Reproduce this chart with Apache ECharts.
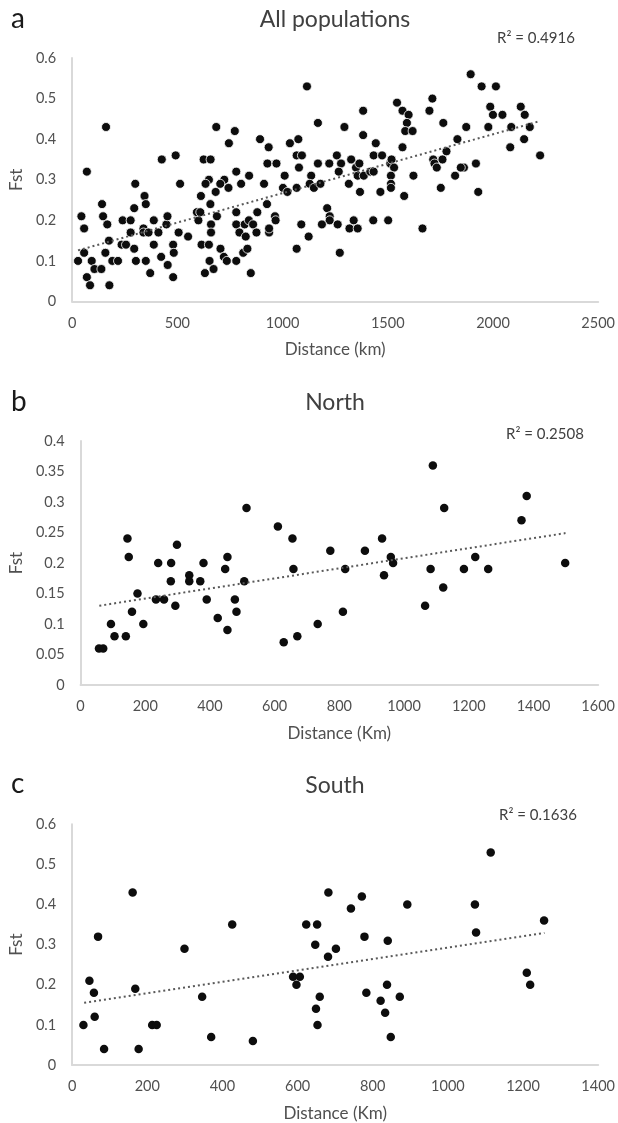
<!DOCTYPE html>
<html>
<head>
<meta charset="utf-8">
<script src="https://cdn.jsdelivr.net/npm/echarts@6/dist/echarts.min.js"></script>
<style>
html,body{margin:0;padding:0;background:#fff;}
#chart{width:618px;height:1123px;}
</style>
</head>
<body>
<div id="chart"></div>
<script>
// ---- Data (distance, Fst) ----
var allPopulations = [
[70,0.32],[161,0.43],[426,0.35],[492,0.36],[625,0.35],[658,0.35],[685,0.43],[773,0.42],[745,0.39],[780,0.32],
[650,0.30],[723,0.30],[841,0.31],[893,0.40],[934,0.38],[928,0.34],[971,0.34],[1010,0.31],[1035,0.39],[1075,0.40],
[1067,0.36],[1092,0.36],[1078,0.33],[1116,0.53],[1168,0.44],[1168,0.34],[1136,0.31],
[1894,0.56],[1946,0.53],[2014,0.53],[1544,0.49],[1712,0.50],[1383,0.47],[1570,0.47],[1599,0.46],[1698,0.47],
[1591,0.44],[1583,0.42],[1618,0.42],[1294,0.43],[1383,0.41],[1443,0.39],[1570,0.38],[1764,0.44],[1873,0.43],
[1831,0.40],[1779,0.37],[1760,0.35],[1716,0.35],[1722,0.34],[1733,0.33],[1919,0.34],[1862,0.33],[1847,0.33],[1820,0.31],
[1987,0.48],[2000,0.46],[2045,0.46],[1978,0.43],[2132,0.48],[2151,0.46],[2087,0.43],[2175,0.43],[2148,0.40],
[2082,0.38],[2224,0.36],[1433,0.36],[1473,0.36],[1258,0.36],[1326,0.35],[1278,0.34],[1222,0.34],[1267,0.32],
[1349,0.33],[1365,0.34],[1357,0.31],[1386,0.31],[1417,0.32],[1433,0.32],[1512,0.34],[1518,0.35],[1530,0.33],[1622,0.31],
[1315,0.29],[1368,0.27],[1465,0.27],[1515,0.31],[1515,0.29],[1515,0.28],[1578,0.26],[1752,0.28],[1930,0.27],
[1212,0.23],[1224,0.21],[1224,0.20],[1187,0.19],[1089,0.19],[1124,0.16],[1262,0.19],[1338,0.20],[1318,0.18],
[1357,0.18],[1431,0.20],[1502,0.20],[1665,0.18],[1272,0.12],
[44,0.21],[57,0.18],[28,0.10],[57,0.12],[70,0.06],[85,0.04],[93,0.10],[106,0.08],[139,0.08],[142,0.24],
[147,0.21],[167,0.19],[175,0.15],[158,0.12],[177,0.04],[191,0.10],[218,0.10],[235,0.14],[256,0.14],[240,0.20],
[278,0.20],[278,0.17],[295,0.23],[300,0.29],[295,0.13],[303,0.10],[344,0.26],[350,0.24],[339,0.18],[339,0.17],
[363,0.17],[410,0.17],[388,0.20],[350,0.10],[371,0.07],[388,0.14],[423,0.11],[448,0.19],[453,0.21],[454,0.09],
[480,0.14],[483,0.12],[480,0.06],[506,0.17],[513,0.29],[551,0.16],[600,0.20],[593,0.22],[609,0.22],[612,0.26],
[615,0.14],[650,0.14],[631,0.07],[634,0.29],[657,0.24],[660,0.19],[660,0.17],[653,0.10],[672,0.08],[682,0.27],
[688,0.21],[705,0.13],[721,0.11],[735,0.10],[704,0.29],[743,0.28],[780,0.22],[780,0.19],[795,0.17],[780,0.10],
[803,0.29],[820,0.19],[840,0.20],[825,0.16],[813,0.12],[833,0.13],[849,0.07],[860,0.19],[880,0.22],[876,0.17],
[912,0.29],[926,0.24],[936,0.17],[936,0.18],[964,0.21],[967,0.20],[1002,0.28],[1023,0.27],[1067,0.28],[1067,0.13],
[1129,0.29],[1149,0.28],[1180,0.29]
];
var northPopulations = [
[145,0.24],[149,0.21],[298,0.23],[513,0.29],[610,0.26],[655,0.24],[454,0.21],[1089,0.36],[1124,0.29],[1379,0.31],
[1363,0.27],[932,0.24],[772,0.22],[879,0.22],[959,0.21],[1220,0.21],[1498,0.20],[240,0.20],[280,0.20],[380,0.20],
[447,0.19],[336,0.18],[279,0.17],[336,0.17],[370,0.17],[506,0.17],[176,0.15],[233,0.14],[258,0.14],[390,0.14],
[477,0.14],[293,0.13],[159,0.12],[482,0.12],[424,0.11],[94,0.10],[194,0.10],[454,0.09],[105,0.08],[140,0.08],
[57,0.06],[70,0.06],[628,0.07],[670,0.08],[658,0.19],[733,0.10],[818,0.19],[966,0.20],[938,0.18],[1082,0.19],
[1185,0.19],[1260,0.19],[1121,0.16],[1065,0.13],[811,0.12]
];
var southPopulations = [
[161,0.43],[69,0.32],[426,0.35],[623,0.35],[652,0.35],[1114,0.53],[682,0.43],[771,0.42],[742,0.39],[892,0.40],
[1072,0.40],[1256,0.36],[1075,0.33],[778,0.32],[840,0.31],[299,0.29],[647,0.30],[46,0.21],[58,0.18],[60,0.12],
[30,0.10],[85,0.04],[168,0.19],[177,0.04],[213,0.10],[225,0.10],[346,0.17],[370,0.07],[481,0.06],[588,0.22],
[606,0.22],[597,0.20],[649,0.14],[653,0.10],[659,0.17],[702,0.29],[681,0.27],[783,0.18],[838,0.20],[821,0.16],
[833,0.13],[872,0.17],[848,0.07],[1210,0.23],[1219,0.20]
];
// Linear trend lines (end points)
var trendAll = [[28,0.126],[2220,0.444]];
var trendNorth = [[58,0.13],[1499,0.249]];
var trendSouth = [[32,0.155],[1257,0.329]];

var panelTitles = ['All populations','North','South'];
var panelLetters = ['a','b','c'];
var rSquared = ['R² = 0.4916','R² = 0.2508','R² = 0.1636'];
var xNames = ['Distance (km)','Distance (Km)','Distance (Km)'];
var yName = 'Fst';
var xMax = [2500,1600,1400], xInterval = [500,200,200];
var yMax = [0.6,0.4,0.6], yInterval = [0.1,0.05,0.1];

// ---- Layout ----
var FONT = 'Lato';
var grids = [
  {left:70, top:58, width:530, height:243.5},
  {left:78, top:441, width:522, height:244},
  {left:70, top:824.3, width:530, height:242.2}
];
var yNameGap = [43.5, 51.5, 43.5];
var scatterSizes = [9, 8.5, 8.5];
var borderWidths = [0.8, 0, 0];
var datasets = [allPopulations, northPopulations, southPopulations];
var trends = [trendAll, trendNorth, trendSouth];

function plainLabel(v) { return String(v); }

var xAxes = [], yAxes = [], series = [];
for (var i = 0; i < 3; i++) {
  xAxes.push({
    type:'value', gridIndex:i, min:0, max:xMax[i], interval:xInterval[i],
    name:xNames[i], nameLocation:'middle', nameGap:40,
    nameTextStyle:{fontFamily:FONT, fontSize:17, color:'#505050'},
    axisLine:{show:true, lineStyle:{color:'#d9d9d9', width:2}},
    axisTick:{show:false}, splitLine:{show:false},
    axisLabel:{fontFamily:FONT, fontSize:14.5, color:'#505050', margin:14, formatter:plainLabel}
  });
  yAxes.push({
    type:'value', gridIndex:i, min:0, max:yMax[i], interval:yInterval[i],
    name:yName, nameLocation:'middle', nameGap:yNameGap[i], nameRotate:90,
    nameTextStyle:{fontFamily:FONT, fontSize:17, color:'#505050'},
    axisLine:{show:true, lineStyle:{color:'#d9d9d9', width:2}},
    axisTick:{show:false}, splitLine:{show:false},
    axisLabel:{fontFamily:FONT, fontSize:14.5, color:'#505050', margin:16, formatter:plainLabel}
  });
  series.push({
    type:'scatter', xAxisIndex:i, yAxisIndex:i, data:datasets[i],
    symbol:'circle', symbolSize:scatterSizes[i],
    itemStyle:{color:'#0d0d0d', borderColor:'#ffffff', borderWidth:borderWidths[i], opacity:1},
    z:2
  });
  series.push({
    type:'line', xAxisIndex:i, yAxisIndex:i, data:trends[i],
    symbol:'none', showSymbol:false,
    lineStyle:{color:'#595959', width:2, type:[2,3]},
    z:3
  });
}

var graphics = [];
var letterPos = [[11,19],[11,402],[11,783.5]];
var titlePos = [[335,20],[335,402.5],[335,786]];
var r2Pos = [[497,38],[506,434],[499,815.5]];
for (var j = 0; j < 3; j++) {
  graphics.push({type:'text', x:letterPos[j][0], y:letterPos[j][1],
    style:{text:panelLetters[j], font:'28px '+FONT, fill:'#1a1a1a', textAlign:'left', textVerticalAlign:'middle'}});
  graphics.push({type:'text', x:titlePos[j][0], y:titlePos[j][1],
    style:{text:panelTitles[j], font:'23px '+FONT, fill:'#404040', textAlign:'center', textVerticalAlign:'middle'}});
  graphics.push({type:'text', x:r2Pos[j][0], y:r2Pos[j][1],
    style:{text:rSquared[j], font:'15px '+FONT, fill:'#404040', textAlign:'left', textVerticalAlign:'middle'}});
}

var chart = echarts.init(document.getElementById('chart'), null, {renderer:'canvas'});
chart.setOption({
  animation:false,
  backgroundColor:'#ffffff',
  grid:grids,
  xAxis:xAxes,
  yAxis:yAxes,
  series:series,
  graphic:graphics
});
</script>
</body>
</html>
